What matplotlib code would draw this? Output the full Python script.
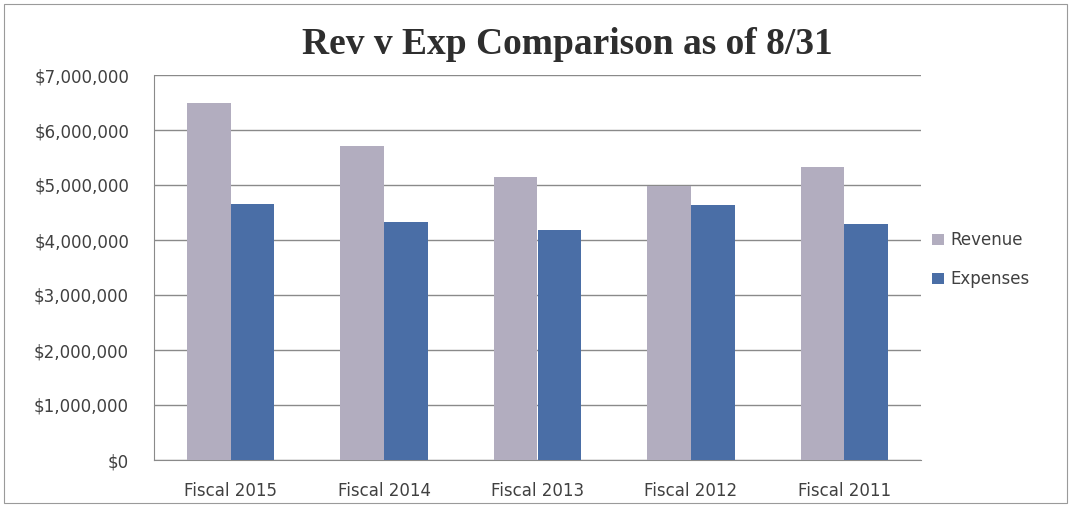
import numpy as np
import matplotlib.pyplot as plt
from matplotlib.ticker import FuncFormatter
from matplotlib.patches import Rectangle

categories = ['Fiscal 2015', 'Fiscal 2014', 'Fiscal 2013', 'Fiscal 2012', 'Fiscal 2011']
revenue = [6490000, 5710000, 5150000, 4980000, 5330000]
expenses = [4650000, 4320000, 4190000, 4640000, 4300000]

fig = plt.figure(figsize=(10.72, 5.09), dpi=100)
ax = fig.add_axes([154/1072, 1 - 460/509, (921 - 154)/1072, (460 - 75)/509])

x = np.arange(len(categories))
w = 0.285
ax.bar(x - w/2, revenue, w, color='#b2adbf', label='Revenue', zorder=3)
ax.bar(x + w/2, expenses, w, color='#4a6ea6', label='Expenses', zorder=3)

ax.set_xlim(-0.5, len(categories) - 0.5)
ax.set_ylim(0, 7000000)
ax.set_yticks(np.arange(0, 7000001, 1000000))
ax.yaxis.set_major_formatter(FuncFormatter(lambda v, p: '${:,.0f}'.format(v)))
ax.set_xticks(x)
ax.set_xticklabels(categories)
ax.tick_params(axis='both', length=0, labelsize=12, labelcolor='#404040')
ax.tick_params(axis='y', pad=18)
ax.tick_params(axis='x', pad=16)
ax.grid(axis='y', color='#8a8a8a', linewidth=1, zorder=0)
for s in ['top', 'right']:
    ax.spines[s].set_visible(False)
ax.spines['left'].set_color('#8a8a8a')
ax.spines['bottom'].set_color('#8a8a8a')

fig.text(567/1072, 1 - 45/509, 'Rev v Exp Comparison as of 8/31', ha='center', va='center',
         fontsize=27, fontweight='bold', family='Liberation Serif', color='#2e2e2e')

ax.legend(loc='center left', bbox_to_anchor=(0.995, 0.52), frameon=False, fontsize=12,
          handlelength=0.7, handleheight=0.7, labelspacing=1.25, handletextpad=0.4,
          labelcolor='#404040')

fig.patches.append(Rectangle((4/1072, 1 - 503/509), 1063/1072, 499/509, transform=fig.transFigure,
                             fill=False, edgecolor='#9a9a9a', linewidth=0.8))

plt.savefig('out.png', dpi=100)
